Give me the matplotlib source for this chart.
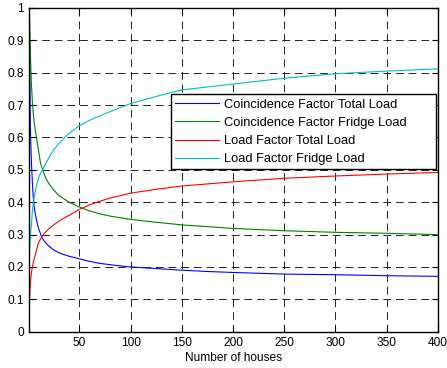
import matplotlib
matplotlib.use("Agg")
import matplotlib.pyplot as plt

plt.rcParams['font.family'] = ['Liberation Sans', 'DejaVu Sans']

# Coincidence Factor Total Load (blue)
cf_total_x = [1, 2, 3, 4, 5, 6, 8, 10, 13, 16, 20, 25, 30, 35, 40, 50, 60, 70, 85,
              100, 120, 150, 175, 200, 250, 300, 350, 400]
cf_total_y = [1.0, 0.63, 0.53, 0.46, 0.41, 0.38, 0.345, 0.32, 0.293, 0.278, 0.265,
              0.252, 0.244, 0.238, 0.233, 0.225, 0.217, 0.211, 0.205, 0.200, 0.196,
              0.190, 0.186, 0.183, 0.178, 0.176, 0.173, 0.171]

# Coincidence Factor Fridge Load (green)
cf_fridge_x = [1, 2, 3, 4, 5, 6, 7, 8, 10, 12, 14, 17, 20, 25, 30, 35, 40, 50, 60, 70,
               80, 100, 125, 150, 200, 250, 300, 350, 400]
cf_fridge_y = [1.0, 0.86, 0.77, 0.71, 0.67, 0.64, 0.62, 0.60, 0.56, 0.52, 0.50, 0.475,
               0.458, 0.437, 0.42, 0.41, 0.40, 0.385, 0.373, 0.364, 0.357, 0.347,
               0.338, 0.330, 0.319, 0.312, 0.307, 0.304, 0.300]

# Load Factor Total Load (red)
lf_total_x = [1, 2, 3, 4, 5, 7, 10, 13, 16, 20, 25, 30, 40, 50, 60, 70, 80, 100, 125,
              150, 200, 250, 300, 350, 400]
lf_total_y = [0.09, 0.15, 0.18, 0.20, 0.215, 0.24, 0.275, 0.292, 0.305, 0.318, 0.33,
              0.342, 0.36, 0.378, 0.392, 0.403, 0.413, 0.428, 0.44, 0.45, 0.463,
              0.474, 0.481, 0.487, 0.492]

# Load Factor Fridge Load (cyan)
lf_fridge_x = [1, 2, 3, 4, 5, 6, 8, 10, 12, 14, 18, 22, 26, 30, 38, 46, 50, 64, 80,
               100, 130, 150, 200, 250, 300, 350, 400]
lf_fridge_y = [0.242, 0.29, 0.33, 0.37, 0.40, 0.42, 0.45, 0.475, 0.49, 0.50, 0.525,
               0.548, 0.566, 0.582, 0.608, 0.627, 0.637, 0.659, 0.68, 0.705, 0.731,
               0.747, 0.765, 0.783, 0.797, 0.805, 0.812]

labels = ["Coincidence Factor Total Load", "Coincidence Factor Fridge Load",
          "Load Factor Total Load", "Load Factor Fridge Load"]
colors = ["#0000ff", "#008000", "#ff0000", "#00bfbf"]

xticks = [50, 100, 150, 200, 250, 300, 350, 400]
yticks = [0, 0.1, 0.2, 0.3, 0.4, 0.5, 0.6, 0.7, 0.8, 0.9, 1]
ytick_labels = ["0", "0.1", "0.2", "0.3", "0.4", "0.5", "0.6", "0.7", "0.8", "0.9", "1"]

fig = plt.figure(figsize=(4.47, 3.68), dpi=100)
ax = fig.add_axes([29.3 / 447, (368 - 331.7) / 368, (437.7 - 29.3) / 447, (331.7 - 8) / 368])

series = [(cf_total_x, cf_total_y), (cf_fridge_x, cf_fridge_y),
          (lf_total_x, lf_total_y), (lf_fridge_x, lf_fridge_y)]
for (xs, ys), lab, col in zip(series, labels, colors):
    ax.plot(xs, ys, color=col, lw=0.8, label=lab, zorder=3)

ax.set_xlim(1, 400)
ax.set_ylim(0, 1)
ax.set_xticks(xticks)
ax.set_xticklabels([str(t) for t in xticks])
ax.set_yticks(yticks)
ax.set_yticklabels(ytick_labels)
ax.grid(True, color="#222222", lw=0.7, linestyle=(0, (8, 5)))
ax.tick_params(direction='in', length=4, width=0.8, top=True, right=True,
               labelsize=8.6, pad=4)
for sp in ax.spines.values():
    sp.set_linewidth(1.0)
    sp.set_zorder(5)
ax.set_xlabel("Number of houses", fontsize=8.6, labelpad=2)

leg = ax.legend(loc='upper left', bbox_to_anchor=(0.346, 0.0, 0.651, 0.733),
                mode='expand', borderaxespad=0,
                fontsize=9.3, fancybox=False, edgecolor='black', framealpha=1,
                handlelength=3.4, handletextpad=0.4, labelspacing=0.48,
                borderpad=0.32)
leg.get_frame().set_linewidth(1.0)
leg.set_zorder(6)

fig.savefig("out.png", dpi=100)
